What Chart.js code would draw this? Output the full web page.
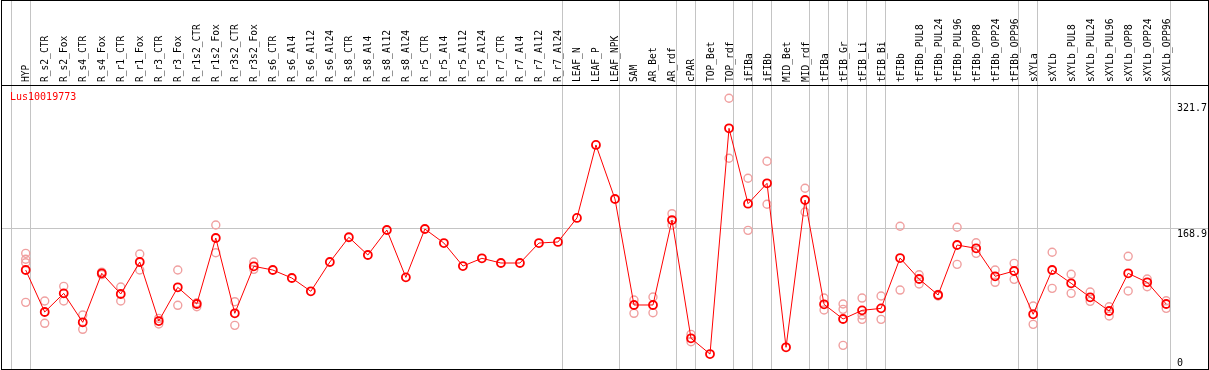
<!DOCTYPE html>
<html>
<head>
<meta charset="utf-8">
<script src="https://cdn.jsdelivr.net/npm/chart.js@4.4.0/dist/chart.umd.min.js"></script>
<style>
  html, body { margin: 0; padding: 0; background: #fff; }
  canvas { display: block; }
</style>
</head>
<body>
<canvas id="chart" width="1209" height="370"></canvas>
<script>
// gene shown in the panel
const geneName = 'Lus10019773';

const categories = [
  'HYP', 'R_s2_CTR', 'R_s2_Fox', 'R_s4_CTR', 'R_s4_Fox', 'R_r1_CTR', 'R_r1_Fox', 'R_r3_CTR', 'R_r3_Fox',
  'R_r1s2_CTR', 'R_r1s2_Fox', 'R_r3s2_CTR', 'R_r3s2_Fox',
  'R_s6_CTR', 'R_s6_Al4', 'R_s6_Al12', 'R_s6_Al24', 'R_s8_CTR', 'R_s8_Al4', 'R_s8_Al12', 'R_s8_Al24',
  'R_r5_CTR', 'R_r5_Al4', 'R_r5_Al12', 'R_r5_Al24', 'R_r7_CTR', 'R_r7_Al4', 'R_r7_Al12', 'R_r7_Al24',
  'LEAF_N', 'LEAF_P', 'LEAF_NPK', 'SAM', 'AR_Bet', 'AR_rdf', 'cPAR', 'TOP_Bet', 'TOP_rdf',
  'iFIBa', 'iFIBb', 'MID_Bet', 'MID_rdf', 'tFIBa', 'tFIB_Gr', 'tFIB_Li', 'tFIB_Bi',
  'tFIBb', 'tFIBb_PUL8', 'tFIBb_PUL24', 'tFIBb_PUL96', 'tFIBb_OPP8', 'tFIBb_OPP24', 'tFIBb_OPP96',
  'sXYLa', 'sXYLb', 'sXYLb_PUL8', 'sXYLb_PUL24', 'sXYLb_PUL96', 'sXYLb_OPP8', 'sXYLb_OPP24', 'sXYLb_OPP96'
];

// mean expression per sample
const means = [
  118.0, 67.1, 89.7, 54.6, 114.0, 88.9, 127.7, 56.1, 97.0,
  76.8, 156.8, 65.5, 122.5,
  118.0, 108.3, 92.2, 127.7, 157.7, 136.2, 166.5, 109.1,
  167.7, 150.7, 122.8, 132.2, 126.5, 126.5, 150.7, 152.0,
  181.1, 269.6, 204.1, 75.6, 75.6, 178.6, 35.2, 16.1, 289.8,
  198.4, 223.1, 24.3, 202.9, 76.4, 58.6, 69.1, 71.5,
  132.5, 107.1, 87.7, 148.3, 144.3, 110.4, 116.8,
  64.3, 118.0, 101.9, 84.9, 68.3, 114.0, 103.1, 76.8
];

// individual replicates per sample
const replicates = [
  [138.2, 131.0, 126.8, 78.8], [80.4, 53.4], [98.2, 80.4], [63.4, 46.1], [112.5, 115.5],
  [97.4, 80.4], [137.4, 118.0], [59.4, 52.5], [118.0, 75.2],
  [78.3, 73.5], [172.6, 139.0], [79.6, 50.9], [127.7, 118.8],
  [], [], [], [], [], [], [], [],
  [], [], [], [], [], [], [], [],
  [], [], [], [81.6, 65.5], [85.3, 66.2], [186.3, 172.6], [40.0, 31.0], [], [326.2, 253.5],
  [229.2, 166.1], [249.8, 197.7], [], [217.1, 188.3], [84.0, 69.5], [76.8, 70.3, 26.7], [84.0, 63.4, 58.2], [86.5, 58.2],
  [171.0, 93.7], [112.3, 101.0], [88.5, 86.5], [169.8, 124.9], [151.1, 138.2], [118.0, 103.1], [126.1, 106.7],
  [74.3, 52.1], [139.5, 95.8], [112.8, 89.7], [91.3, 80.0], [73.5, 62.2], [134.6, 92.5], [107.1, 97.7], [80.8, 71.5]
];

// gray separators sit just right of these sample indexes
const separatorsAfter = [-1, 0, 28, 31, 34, 35, 37, 38, 39, 41, 42, 43, 44, 45, 52, 53, 60];

const yTickValues = [0, 168.9, 321.7];
const yGridValues = [168.9];

const replicatePoints = [];
replicates.forEach((reps, i) => {
  reps.forEach((r) => replicatePoints.push({ x: i, y: r }));
});

const MONO = '"DejaVu Sans Mono", "Liberation Mono", monospace';

const panelPlugin = {
  id: 'panel',
  beforeDatasetsDraw(chart) {
    const ctx = chart.ctx;
    const xs = chart.scales.x;
    const ys = chart.scales.y;
    ctx.save();
    ctx.strokeStyle = '#c4c4c4';
    ctx.lineWidth = 1;
    // vertical group separators
    separatorsAfter.forEach((i) => {
      const px = Math.floor(xs.getPixelForValue(i + 0.25)) + 0.5;
      ctx.beginPath();
      ctx.moveTo(px, 0);
      ctx.lineTo(px, chart.height);
      ctx.stroke();
    });
    // horizontal reference line
    yGridValues.forEach((v) => {
      const py = Math.round(ys.getPixelForValue(v)) + 0.5;
      ctx.beginPath();
      ctx.moveTo(1, py);
      ctx.lineTo(chart.width, py);
      ctx.stroke();
    });
    ctx.restore();
  },
  afterDraw(chart) {
    const ctx = chart.ctx;
    const xs = chart.scales.x;
    const ys = chart.scales.y;
    const w = chart.width;
    const h = chart.height;
    ctx.save();

    // frame and header line
    ctx.fillStyle = '#000';
    ctx.fillRect(1, 0, w - 1, 1);
    ctx.fillRect(1, h - 1, w - 1, 1);
    ctx.fillRect(1, 0, 1, h);
    ctx.fillRect(w - 1, 0, 1, h);
    ctx.fillRect(1, 85, w - 1, 1);

    // rotated sample names
    ctx.font = '9.6px ' + MONO;
    ctx.fillStyle = '#000';
    ctx.textAlign = 'left';
    ctx.textBaseline = 'middle';
    categories.forEach((name, i) => {
      const px = xs.getPixelForValue(i);
      ctx.save();
      ctx.translate(px + 1, 82);
      ctx.rotate(-Math.PI / 2);
      ctx.fillText(name, 0, 0);
      ctx.restore();
    });

    // gene name
    ctx.font = '10px ' + MONO;
    ctx.fillStyle = '#ff0000';
    ctx.textBaseline = 'top';
    ctx.fillText(geneName, 10, 92);

    // right-hand value labels
    ctx.fillStyle = '#000';
    yTickValues.forEach((v) => {
      const py = Math.min(ys.getPixelForValue(v) + 1, h - 12);
      ctx.fillText(String(v), 1177, py);
    });

    ctx.restore();
  }
};

new Chart(document.getElementById('chart').getContext('2d'), {
  type: 'line',
  data: {
    datasets: [
      {
        data: means.map((v, i) => ({ x: i, y: v })),
        borderColor: '#ff0000',
        borderWidth: 1,
        pointRadius: 4,
        pointBorderWidth: 1.8,
        pointBorderColor: '#ff0000',
        pointBackgroundColor: 'rgba(0,0,0,0)',
        tension: 0,
        order: 0
      },
      {
        type: 'scatter',
        data: replicatePoints,
        showLine: false,
        pointRadius: 4,
        pointBorderWidth: 1.4,
        pointBorderColor: '#f0a0a0',
        pointBackgroundColor: 'rgba(0,0,0,0)',
        order: 1
      }
    ]
  },
  options: {
    responsive: false,
    animation: false,
    devicePixelRatio: 1,
    layout: { autoPadding: false, padding: { left: 1, right: 39, top: 85, bottom: 1 } },
    plugins: {
      legend: { display: false },
      tooltip: { enabled: false }
    },
    scales: {
      x: { type: 'linear', min: -1.3, max: 60.2, display: false },
      y: { type: 'linear', min: -2, max: 342.3, display: false }
    }
  },
  plugins: [panelPlugin]
});
</script>
</body>
</html>
